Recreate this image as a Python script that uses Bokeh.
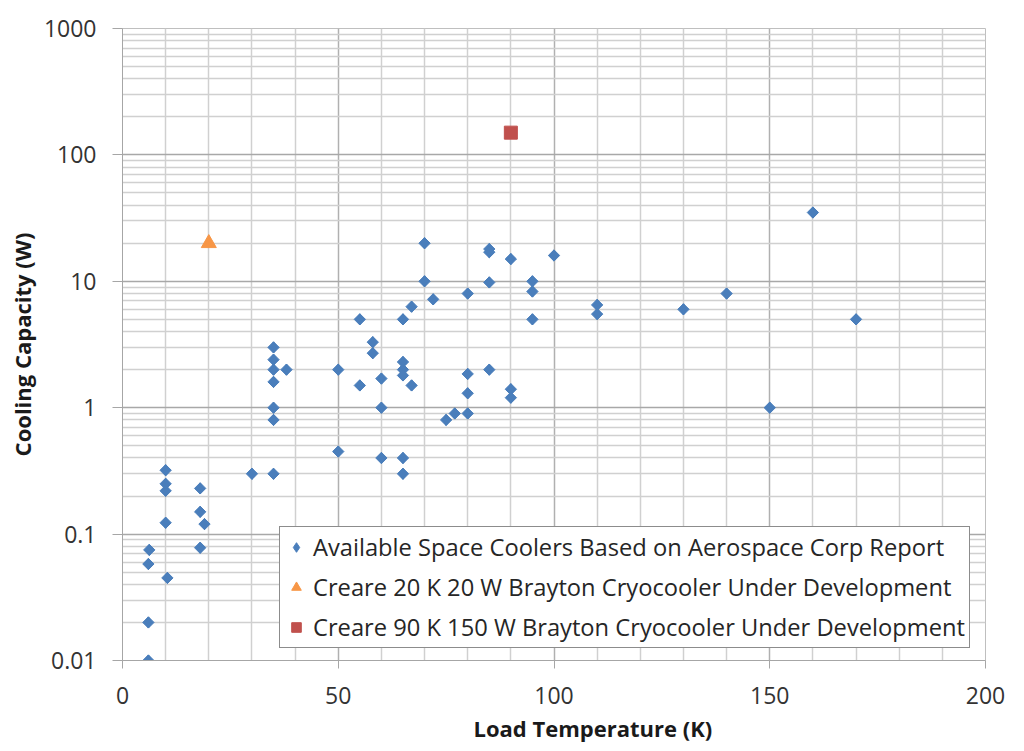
import numpy as np
from bokeh.plotting import figure
from bokeh.models import FixedTicker, CustomJSTickFormatter, Legend, LegendItem, Title
from bokeh.embed import file_html
from bokeh.resources import INLINE

# Available space coolers (Aerospace Corp report)
aero_temp = [6, 6, 6, 6.2, 10.4, 10, 10, 10, 10, 18, 18, 18, 19,
             30, 35, 35, 35, 35, 35, 35, 35, 38,
             50, 50, 55, 55, 58, 58, 60, 60, 60,
             65, 65, 65, 65, 65, 65, 67, 67, 70, 70, 72,
             75, 77, 80, 80, 80, 80, 85, 85, 85, 85,
             90, 90, 90, 95, 95, 95, 100, 110, 110, 130, 140, 150, 160, 170]
aero_cap = [0.01, 0.02, 0.058, 0.075, 0.045, 0.123, 0.22, 0.25, 0.32, 0.23, 0.15, 0.078, 0.12,
            0.30, 0.30, 0.80, 1.0, 1.6, 2.0, 2.4, 3.0, 2.0,
            2.0, 0.45, 5.0, 1.5, 3.3, 2.7, 1.7, 1.0, 0.4,
            5.0, 2.3, 2.0, 1.8, 0.4, 0.3, 1.5, 6.3, 20, 10, 7.2,
            0.8, 0.9, 0.9, 1.3, 1.85, 8.0, 9.8, 2.0, 18, 17,
            15, 1.4, 1.2, 10, 8.3, 5.0, 16, 6.5, 5.5, 6.0, 8.0, 1.0, 35, 5.0]

creare20_temp = [20]
creare20_cap = [20]
creare90_temp = [90]
creare90_cap = [150]

x_ticks = [0, 50, 100, 150, 200]
x_minor = [10, 20, 30, 40, 60, 70, 80, 90, 110, 120, 130, 140, 160, 170, 180, 190]
y_ticks = [0.01, 0.1, 1, 10, 100, 1000]

labels = ["Available Space Coolers Based on Aerospace Corp Report",
          "Creare 20 K 20 W Brayton Cryocooler Under Development",
          "Creare 90 K 150 W Brayton Cryocooler Under Development"]

FONT = "Open Sans"
BLUE = "#4A7EBB"

p = figure(frame_width=863, frame_height=632,
           x_range=(0, 200), y_range=(0.01, 1000), y_axis_type="log",
           output_backend="svg", toolbar_location=None,
           min_border_left=122, min_border_right=31, min_border_top=28, min_border_bottom=83)
p.background_fill_color = "white"
p.border_fill_color = "white"
p.outline_line_color = "#bfbfbf"

y_minor = [m * d for d in [0.01, 0.1, 1, 10, 100] for m in range(2, 10)]
p.yaxis.ticker = FixedTicker(ticks=y_ticks, minor_ticks=y_minor)
p.xaxis.ticker = FixedTicker(ticks=x_ticks, minor_ticks=x_minor)
p.yaxis.formatter = CustomJSTickFormatter(code="return tick.toString();")

for ax in (p.xaxis, p.yaxis):
    ax.axis_line_color = "#a6a6a6"
    ax.major_tick_line_color = "#a6a6a6"
    ax.minor_tick_line_color = None
    ax.major_tick_in = 0
    ax.major_label_text_font = FONT
    ax.major_label_text_font_size = "23px"
    ax.major_label_text_color = "#333333"

p.xaxis.major_tick_out = 8
p.xaxis.major_label_standoff = 18
p.yaxis.major_tick_out = 10
p.yaxis.major_label_standoff = 16
p.yaxis.axis_label = "Cooling Capacity (W)"
p.yaxis.axis_label_standoff = 4
p.yaxis.axis_label_text_font = FONT
p.yaxis.axis_label_text_font_style = "bold"
p.yaxis.axis_label_text_font_size = "22px"
p.yaxis.axis_label_text_color = "#1a1a1a"

xtitle = Title(text="Load Temperature (K)", align="left", offset=351,
               text_font=FONT, text_font_style="bold", text_font_size="22px",
               text_color="#1a1a1a", standoff=8)
p.add_layout(xtitle, "below")

p.xgrid.grid_line_color = "#b0b0b0"
p.xgrid.minor_grid_line_color = "#d0d0d0"
p.ygrid.grid_line_color = "#a8a8a8"
p.ygrid.minor_grid_line_color = "#d0d0d0"
p.xgrid.grid_line_width = 1.5
p.ygrid.grid_line_width = 1.5
p.xgrid.minor_grid_line_width = 1.5
p.ygrid.minor_grid_line_width = 1.5

# diamond renderer used as the legend key; fully covered by the rotated squares below
r1_key = p.scatter(aero_temp, aero_cap, marker="diamond", size=11,
                   fill_color=BLUE, line_color=BLUE)
r1 = p.scatter(aero_temp, aero_cap, marker="square", size=8, angle=np.pi / 4,
               fill_color=BLUE, line_color=BLUE)
r2 = p.scatter(creare20_temp, creare20_cap, marker="triangle", size=15,
               fill_color="#F79646", line_color="#F79646")
r3 = p.scatter(creare90_temp, creare90_cap, marker="square", size=13,
               fill_color="#C0504D", line_color="#C0504D")

legend = Legend(items=[LegendItem(label=labels[0], renderers=[r1_key]),
                       LegendItem(label=labels[1], renderers=[r2]),
                       LegendItem(label=labels[2], renderers=[r3])],
                location=(157, 12))
legend.border_line_color = "#1a1a1a"
legend.border_line_width = 1.5
legend.background_fill_alpha = 1
legend.label_text_font = FONT
legend.label_text_font_size = "23.7px"
legend.label_text_color = "#262626"
legend.padding = 4
legend.spacing = 8
legend.glyph_width = 24
legend.glyph_height = 28
legend.label_height = 28
legend.label_standoff = 5
legend.margin = 0
p.add_layout(legend, "center")

open("out.html", "w").write(file_html(p, INLINE))
